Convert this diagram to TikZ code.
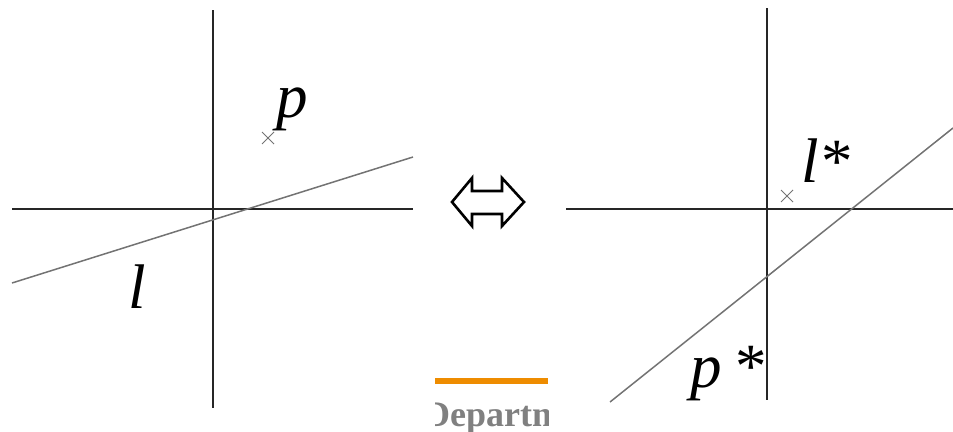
\documentclass[tikz,border=0pt]{standalone}
\usepackage{fontspec}
\setmainfont{Liberation Serif}
\usetikzlibrary{calc}
\definecolor{barorange}{RGB}{238,140,0}
\begin{document}
\begin{tikzpicture}[x=1pt,y=-1pt,
  axis/.style={draw=black!85,line width=1.6pt},
  dual/.style={draw=black!55,line width=1.5pt},
  cross/.style={draw=black!55,line width=1pt},
  lbl/.style={inner sep=0pt,font=\fontsize{63}{63}\selectfont\itshape},
  arrowshape/.style={draw=black,line width=2.6pt,line join=miter}]
\useasboundingbox (0,0) rectangle (953,431);
% left panel
\coordinate (LvT) at (213,10); \coordinate (LvB) at (213,408);
\coordinate (LhL) at (12,209); \coordinate (LhR) at (413,209);
\draw[axis] (LvT) -- (LvB);
\draw[axis] (LhL) -- (LhR);
\coordinate (lA) at (12,283); \coordinate (lB) at (413,157);
\draw[dual] (lA) -- (lB);
\coordinate (P) at (268,138);
\draw[cross] ($(P)+(-6,-6)$) -- ($(P)+(6,6)$) ($(P)+(-6,6)$) -- ($(P)+(6,-6)$);
\node[lbl,anchor=base west] (plabel) at (276,117) {p};
\node[lbl,anchor=base west] (llabel) at (128,308) {l};
% arrow
\draw[arrowshape] (452,202) -- (472,178) -- (472,191) -- (502,191) -- (502,178) -- (524,202)
  -- (502,226) -- (502,214) -- (472,214) -- (472,226) -- cycle;
% right panel
\coordinate (RvT) at (767,8); \coordinate (RvB) at (767,400);
\coordinate (RhL) at (566,209); \coordinate (RhR) at (953,209);
\draw[axis] (RvT) -- (RvB);
\draw[axis] (RhL) -- (RhR);
\coordinate (pA) at (610,402); \coordinate (pB) at (953,128);
\draw[dual] (pA) -- (pB);
\coordinate (L) at (787,196);
\draw[cross] ($(L)+(-6,-6)$) -- ($(L)+(6,6)$) ($(L)+(-6,6)$) -- ($(L)+(6,-6)$);
\node[lbl,anchor=base west] (lslabel) at (801,182) {l*};
\node[lbl,anchor=base west] (pslabel) at (690,387) {p\,*};
% footer fragment
\fill[barorange] (435,378) rectangle (548,384);
\begin{scope}
\clip (435,390) rectangle (548,431);
\node[anchor=base west,inner sep=0pt,text=black!50,font=\fontsize{36}{36}\selectfont\bfseries] (dept) at (424,426) {Department};
\end{scope}
\end{tikzpicture}
\end{document}
